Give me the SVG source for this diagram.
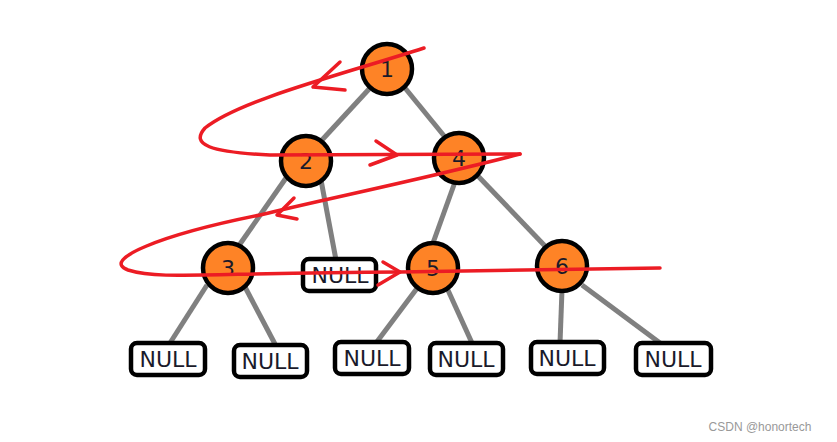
<svg xmlns="http://www.w3.org/2000/svg" width="837" height="442" viewBox="0 0 837 442">
<style>
.e{stroke:#808080;stroke-width:5;fill:none}
.n circle{fill:#fe8326;stroke:#000;stroke-width:4.5}
.b rect{fill:#fff;stroke:#000;stroke-width:4.5}
text{font-family:"DejaVu Sans",sans-serif;font-size:22px;fill:#1a1a2a;text-anchor:middle}
.r{stroke:#ec1c24;stroke-width:3.5;fill:none;stroke-linecap:round;stroke-linejoin:round}
</style>
<rect width="837" height="442" fill="#fff"/>
<g id="edges">
<line class="e" x1="370" y1="88" x2="322" y2="140"/>
<line class="e" x1="405" y1="88" x2="445" y2="137"/>
<line class="e" x1="286" y1="178" x2="240" y2="244"/>
<line class="e" x1="321" y1="180" x2="336" y2="260"/>
<line class="e" x1="455" y1="182" x2="433" y2="243"/>
<line class="e" x1="477" y1="175" x2="545" y2="246"/>
<line class="e" x1="207" y1="285" x2="170" y2="343"/>
<line class="e" x1="245" y1="287" x2="275" y2="344"/>
<line class="e" x1="418" y1="287" x2="376" y2="343"/>
<line class="e" x1="447" y1="288" x2="472" y2="343"/>
<line class="e" x1="562" y1="290" x2="560" y2="343"/>
<line class="e" x1="582" y1="285" x2="660" y2="343"/>
</g>
<g id="node1" class="n"><circle cx="387" cy="69" r="25"/><text x="387" y="77">1</text></g>
<g id="node2" class="n"><circle cx="306" cy="161" r="25"/><text x="306" y="169">2</text></g>
<g id="node4" class="n"><circle cx="459" cy="158" r="25"/><text x="459" y="166">4</text></g>
<g id="node3" class="n"><circle cx="228" cy="268" r="25"/><text x="228" y="276">3</text></g>
<g id="node5" class="n"><circle cx="433" cy="268" r="25"/><text x="433" y="276">5</text></g>
<g id="node6" class="n"><circle cx="562" cy="266" r="25"/><text x="562" y="274">6</text></g>
<g id="null0" class="b"><rect x="303" y="259" width="73" height="32" rx="6"/><text x="340" y="283">NULL</text></g>
<g id="null1" class="b"><rect x="131" y="343" width="74" height="32" rx="6"/><text x="168" y="367">NULL</text></g>
<g id="null2" class="b"><rect x="234" y="345" width="73" height="32" rx="6"/><text x="270" y="369">NULL</text></g>
<g id="null3" class="b"><rect x="335" y="342" width="74" height="32" rx="6"/><text x="372" y="366">NULL</text></g>
<g id="null4" class="b"><rect x="430" y="343" width="73" height="32" rx="6"/><text x="466" y="367">NULL</text></g>
<g id="null5" class="b"><rect x="531" y="342" width="73" height="32" rx="6"/><text x="567" y="366">NULL</text></g>
<g id="null6" class="b"><rect x="636" y="343" width="75" height="32" rx="6"/><text x="673" y="367">NULL</text></g>
<g id="traversal">
<path class="r" d="M424 48 C340 75 240 100 205 128 C190 145 210 152 270 155 L520 154"/>
<path class="r" d="M340 62 L313 87 L345 90"/>
<path class="r" d="M376 141 L397 155 L370 165"/>
<path class="r" d="M520 154 C420 180 320 200 260 215 C160 235 100 260 128 270 C160 280 200 273 400 272 L660 268"/>
<path class="r" d="M294 198 L277 215 L297 219"/>
<path class="r" d="M383 262 L400 272 L378 285"/>
</g>
<text x="760" y="431" style="font-size:12px;fill:#999;font-family:'Liberation Sans',sans-serif">CSDN @honortech</text>
</svg>
